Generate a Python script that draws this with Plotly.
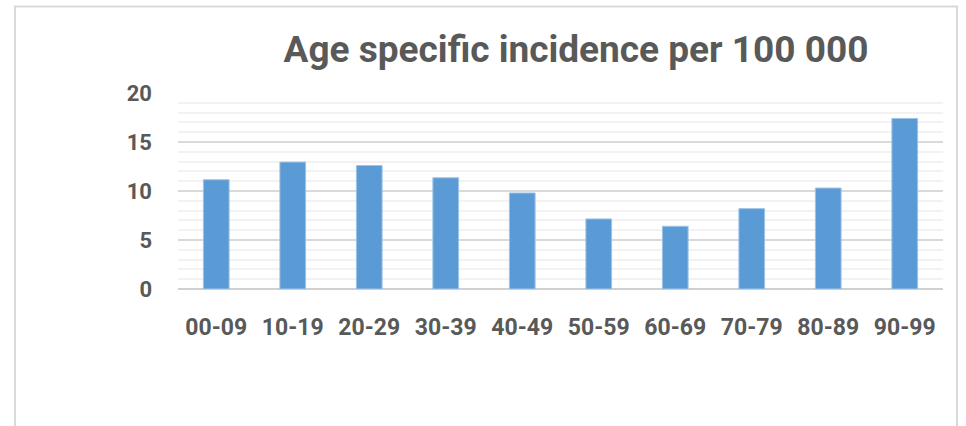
import plotly.graph_objects as go

# Age groups and age-specific incidence per 100 000
age_groups = ["00-09", "10-19", "20-29", "30-39", "40-49",
              "50-59", "60-69", "70-79", "80-89", "90-99"]
incidence = [11.15, 12.95, 12.6, 11.35, 9.8, 7.15, 6.4, 8.2, 10.3, 17.4]
y_ticks = [0, 5, 10, 15, 20]

W, H = 966, 426
L, R, T, B = 178, 23, 93, 137
pw, ph = W - L - R, H - T - B

def px(x):
    return (x - L) / pw

def py(y):
    return (H - B - y) / ph

text_color = "#595959"
font_family = "Roboto, 'DejaVu Sans', sans-serif"

fig = go.Figure()
fig.add_trace(go.Bar(
    x=age_groups,
    y=incidence,
    marker=dict(color="#5b9bd5", line=dict(color="#9dc3e6", width=1)),
    width=0.336,
))

fig.update_layout(
    width=W, height=H,
    margin=dict(l=L, r=R, t=T, b=B),
    paper_bgcolor="white",
    plot_bgcolor="white",
    showlegend=False,
    title=dict(
        text="<b>Age specific incidence per 100 000</b>",
        xref="container", x=576 / W, xanchor="center",
        y=1 - 49 / H, yanchor="middle",
        font=dict(family=font_family, size=37, color=text_color),
    ),
    xaxis=dict(
        type="category",
        showgrid=False,
        showline=False,
        ticks="",
        tickfont=dict(family=font_family, size=23, color=text_color, weight="bold"),
        ticklabelstandoff=22,
    ),
    yaxis=dict(
        range=[0, 20],
        tickvals=y_ticks,
        ticktext=[f"<b>{v}</b>" for v in y_ticks],
        tickfont=dict(family=font_family, size=22, color=text_color),
        showgrid=True,
        gridcolor="#d9d9d9",
        gridwidth=1.5,
        minor=dict(dtick=1, showgrid=True, gridcolor="#f2f2f2", gridwidth=1.5),
        zeroline=True,
        zerolinecolor="#d0d0d0",
        zerolinewidth=2,
        showline=False,
        ticks="",
        ticklabelstandoff=25,
    ),
    shapes=[dict(
        type="rect", xref="paper", yref="paper",
        x0=px(15), x1=px(957), y0=py(440), y1=py(6.5),
        line=dict(color="#d9d9d9", width=2),
        fillcolor="rgba(0,0,0,0)",
        layer="below",
    )],
)

fig.write_html("out.html")
